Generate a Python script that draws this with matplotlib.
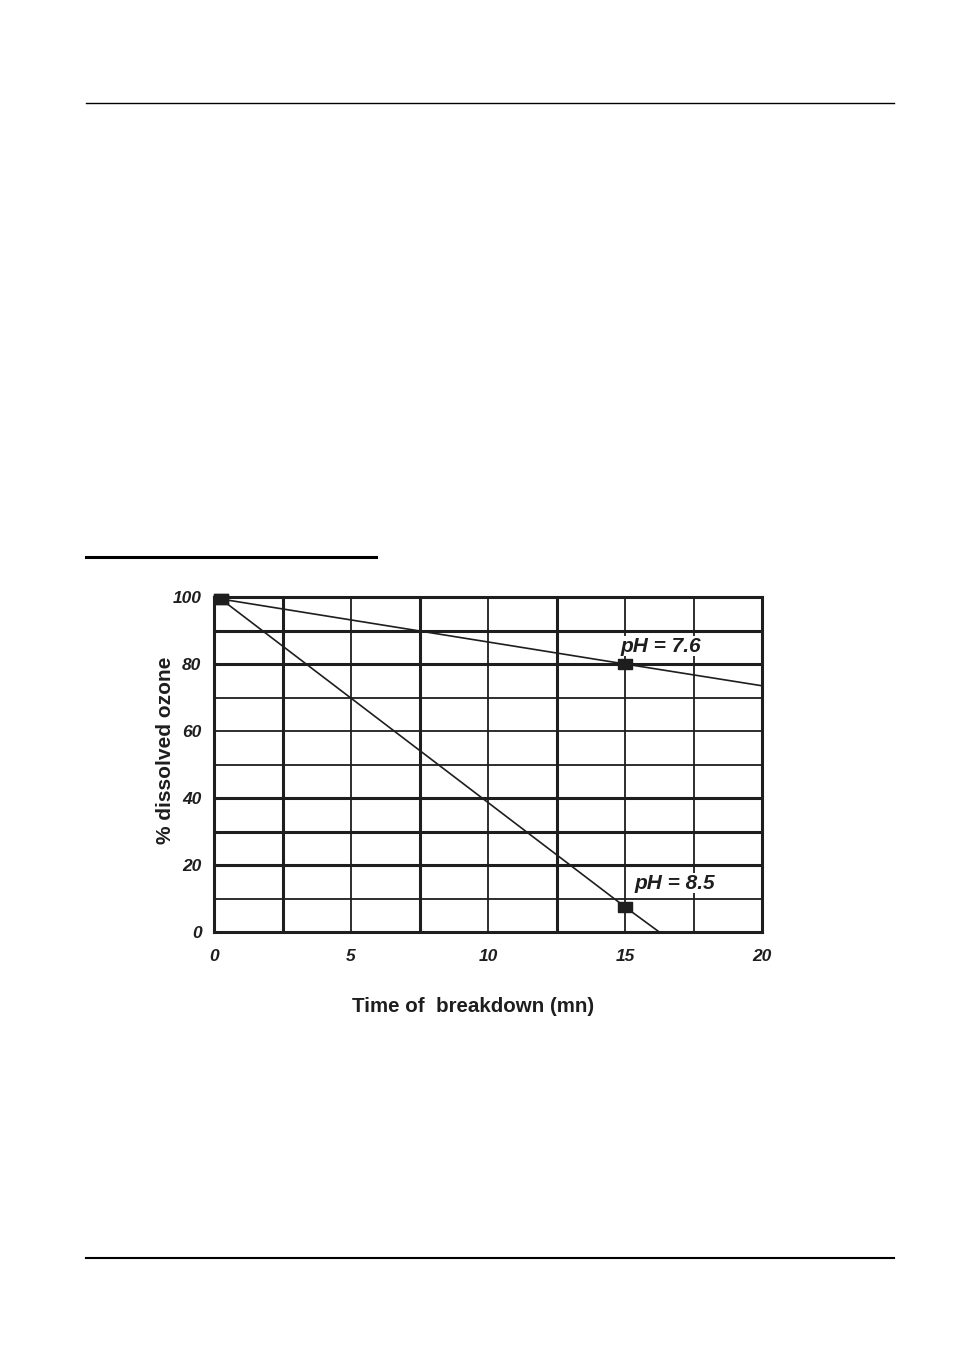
import numpy as np
import matplotlib.pyplot as plt
from matplotlib.lines import Line2D

plt.rcParams['font.family'] = ['Liberation Sans', 'DejaVu Sans']

# data
t_ph76 = [0.25, 15, 20]
o3_ph76 = [99.4, 80, 73.5]
t_ph85 = [0.25, 15, 16.25]
o3_ph85 = [99.4, 7.5, 0]
marker_t = [0.25, 15, 0.25, 15]
marker_o3 = [99.4, 80, 99.4, 7.5]

xticks = [0, 5, 10, 15, 20]
yticks = [0, 20, 40, 60, 80, 100]
x_grid_thick = [2.5, 7.5, 12.5]
x_grid_thin = [5, 10, 15, 17.5]
y_grid_thick = [20, 30, 40, 80, 90]
y_grid_thin = [10, 50, 60, 70]

ink = '#1e1e1e'

fig = plt.figure(figsize=(9.54, 13.5), dpi=100)

# page rules
for y, x0, x1, lw in [(1350 - 103, 86, 894, 1.0), (1350 - 557, 86, 376, 2.2), (1350 - 1258, 86, 894, 1.5)]:
    fig.add_artist(Line2D([x0 / 954, x1 / 954], [y / 1350, y / 1350], color='black', lw=lw))

ax = fig.add_axes([214 / 954, 418 / 1350, 548 / 954, 335 / 1350])
ax.set_xlim(0, 20)
ax.set_ylim(0, 100)

for x in x_grid_thick:
    ax.axvline(x, color=ink, lw=2.2, zorder=1)
for x in x_grid_thin:
    ax.axvline(x, color=ink, lw=1.3, zorder=1)
for y in y_grid_thick:
    ax.axhline(y, color=ink, lw=2.2, zorder=1)
for y in y_grid_thin:
    ax.axhline(y, color=ink, lw=1.3, zorder=1)

for s in ax.spines.values():
    s.set_linewidth(2.2)
    s.set_color(ink)

ax.plot(t_ph76, o3_ph76, color=ink, lw=1.2, zorder=3)
ax.plot(t_ph85, o3_ph85, color=ink, lw=1.2, zorder=3)
rect = [(-1.4, -1), (1.4, -1), (1.4, 1), (-1.4, 1), (-1.4, -1)]
ax.plot(marker_t, marker_o3, ls='none', marker=rect, markersize=10,
        color=ink, zorder=4, clip_on=False)

box = dict(facecolor='white', edgecolor='none', pad=0.5)
ax.text(14.82, 85.3, 'pH = 7.6', fontsize=15, fontweight='bold', fontstyle='italic',
        color=ink, ha='left', va='center', bbox=box, zorder=2)
ax.text(15.35, 14.6, 'pH = 8.5', fontsize=15, fontweight='bold', fontstyle='italic',
        color=ink, ha='left', va='center', bbox=box, zorder=2)

ax.set_xticks(xticks)
ax.set_yticks(yticks)
ax.tick_params(length=0)
ax.tick_params(axis='y', pad=9)
ax.tick_params(axis='x', pad=12)
for lbl in ax.get_xticklabels() + ax.get_yticklabels():
    lbl.set_fontsize(12.5)
    lbl.set_fontweight('bold')
    lbl.set_fontstyle('italic')
    lbl.set_color(ink)

ax.set_xlabel('Time of  breakdown (mn)', fontsize=14.8, fontweight='bold', color=ink)
ax.set_ylabel('% dissolved ozone', fontsize=15, fontweight='bold', color=ink)
ax.xaxis.label.set_va('center')
ax.yaxis.label.set_va('center')
ax.xaxis.set_label_coords(0.4726, -0.221)
ax.yaxis.set_label_coords(-0.089, 0.543)

fig.savefig('out.png', dpi=100)
